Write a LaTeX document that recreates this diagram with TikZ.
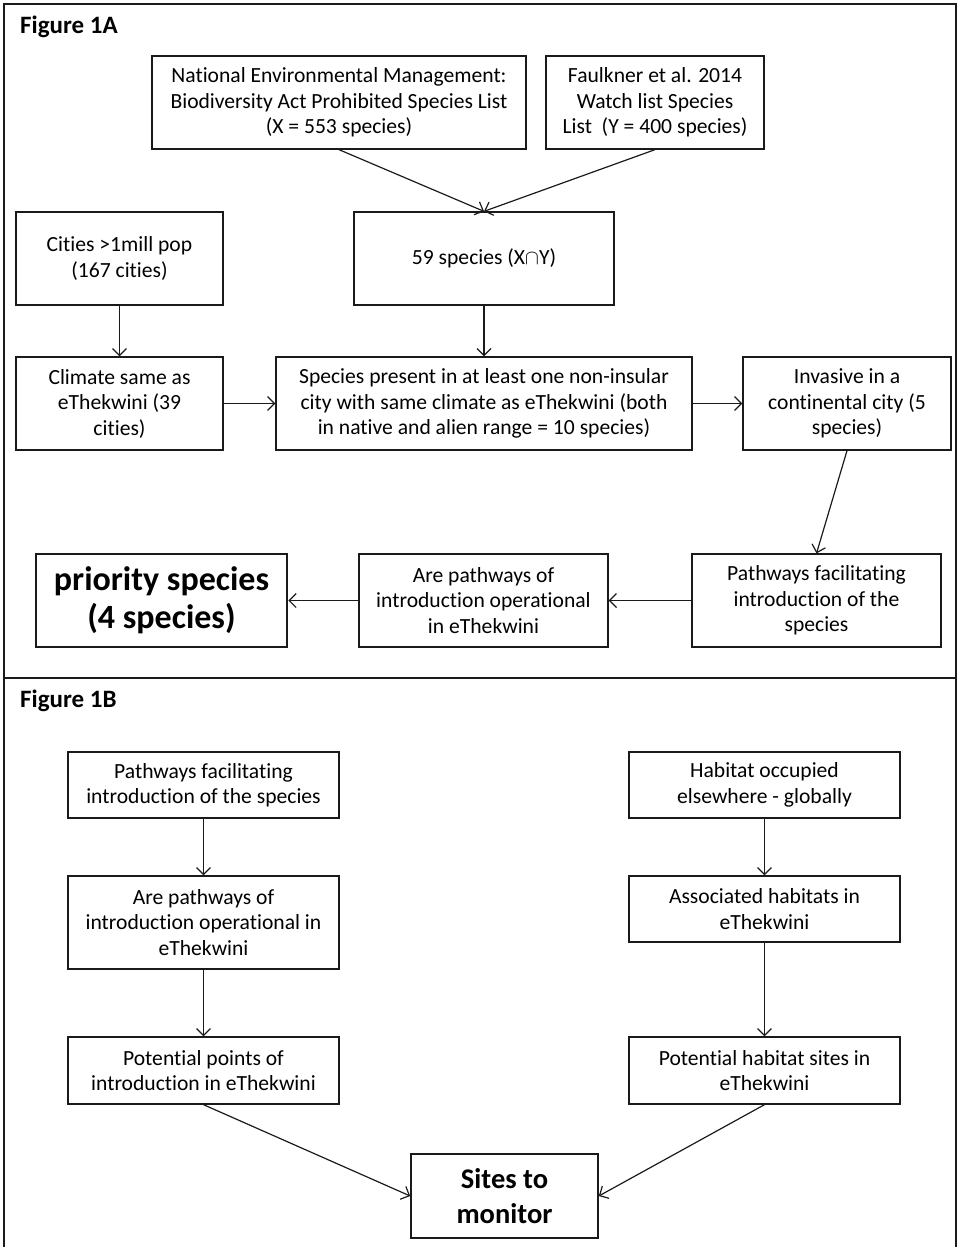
\documentclass[tikz,border=0pt]{standalone}
\usepackage{fontspec}
\setmainfont{Carlito}[Ligatures=NoCommon]
\usepackage{tikz}
\usetikzlibrary{arrows.meta,positioning}
\definecolor{ink}{HTML}{1A1A1A}

\begin{document}
\begin{tikzpicture}[x=1pt,y=-1pt,>={Straight Barb[length=7pt,width=14pt]},
    box/.style={draw=ink,line width=1.3pt,align=center,inner sep=0pt,
      font=\fontsize{21.6}{25.5}\selectfont},
    boldbox/.style={box,font=\bfseries\fontsize{34}{38}\selectfont},
    figlabel/.style={anchor=west,inner sep=0pt,font=\bfseries\fontsize{25}{28}\selectfont},
    link/.style={->,draw=ink,line width=1.2pt}]
      \useasboundingbox (0,0) rectangle (959,1247);
      % frame and divider
      \draw[ink,line width=2.2pt] (4,1247) -- (4,4) -- (956,4) -- (956,1247);
      \draw[ink,line width=2.2pt] (4,678) -- (956,678);
      \node[figlabel] (figA) at (20,27) {Figure 1A};
      \node[figlabel] (figB) at (20,701) {Figure 1B};
      % Figure 1A
      \node[box,minimum width=374,minimum height=93] (nem) at (339,102.5)
        {National Environmental Management:\\Biodiversity Act Prohibited Species List\\(X = 553 species)};
      \node[box,minimum width=218,minimum height=93] (faulk) at (655,102.5)
        {Faulkner et al. 2014\\Watch list Species\\List\ \ (Y = 400 species)};
      \node[box,minimum width=207,minimum height=93] (cities) at (119.5,258.5)
        {Cities >1mill pop\\(167 cities)};
      \node[box,minimum width=260,minimum height=93] (common) at (484,258.5)
        {59 species (X$\cap$Y)};
      \node[box,minimum width=207,minimum height=93] (climate) at (119.5,403.5)
        {Climate same as\\eThekwini (39\\cities)};
      \node[box,minimum width=416,minimum height=93] (present) at (484,403.5)
        {Species present in at least one non-insular\\city with same climate as eThekwini (both\\in native and alien range = 10 species)};
      \node[box,minimum width=208,minimum height=93] (invasive) at (847,403.5)
        {Invasive in a\\continental city (5\\species)};
      \node[boldbox,line width=2.6pt,minimum width=251,minimum height=93] (priority) at (161.5,600.5)
        {priority species\\(4 species)};
      \node[box,minimum width=249,minimum height=93] (operA) at (483.5,600.5)
        {Are pathways of\\introduction operational\\in eThekwini};
      \node[box,minimum width=249,minimum height=93] (pathA) at (816.5,600.5)
        {Pathways facilitating\\introduction of the\\species};
      \draw[link] (nem.south) -- (common.north);
      \draw[link] (faulk.south) -- (common.north);
      \draw[link] (cities) -- (climate);
      \draw[link] (common) -- (present);
      \draw[link] (climate) -- (present);
      \draw[link] (present) -- (invasive);
      \draw[link] (invasive.south) -- (pathA.north);
      \draw[link] (pathA) -- (operA);
      \draw[link] (operA) -- (priority);
      % Figure 1B
      \node[box,minimum width=271,minimum height=66] (pathB) at (203.5,785)
        {Pathways facilitating\\introduction of the species};
      \node[box,minimum width=271,minimum height=93] (operB) at (203.5,922.5)
        {Are pathways of\\introduction operational in\\eThekwini};
      \node[box,minimum width=271,minimum height=67] (points) at (203.5,1070.5)
        {Potential points of\\introduction in eThekwini};
      \node[box,minimum width=271,minimum height=66] (habitat) at (764.5,785)
        {Habitat occupied\\elsewhere - globally};
      \node[box,minimum width=271,minimum height=66] (assoc) at (764.5,909)
        {Associated habitats in\\eThekwini};
      \node[box,minimum width=271,minimum height=67] (sites) at (764.5,1070.5)
        {Potential habitat sites in\\eThekwini};
      \node[boldbox,font=\bfseries\fontsize{28.5}{35}\selectfont,line width=1.6pt,
        minimum width=187,minimum height=84] (monitor) at (504.5,1196)
        {Sites to\\monitor};
      \draw[link] (pathB) -- (operB);
      \draw[link] (operB) -- (points);
      \draw[link] (habitat) -- (assoc);
      \draw[link] (assoc) -- (sites);
      \draw[link] (points.south) -- (monitor.west);
      \draw[link] (sites.south) -- (monitor.east);
    \end{tikzpicture}
\end{document}
